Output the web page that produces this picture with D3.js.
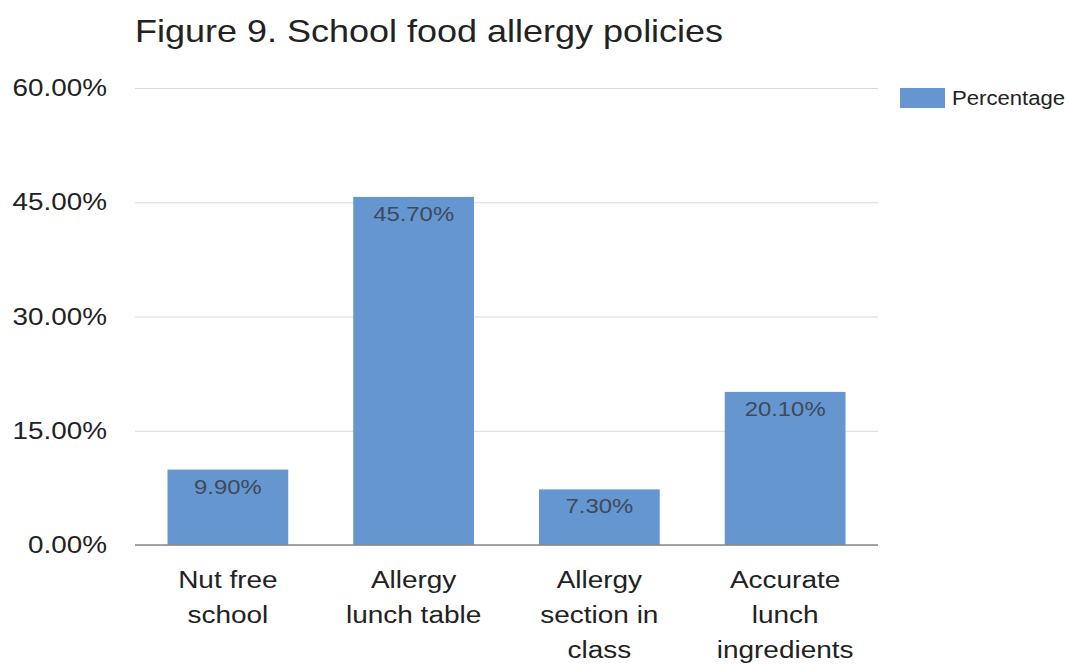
<!DOCTYPE html>
<html>
<head>
<meta charset="utf-8">
<script src="https://cdn.jsdelivr.net/npm/d3@7"></script>
<style>
  html, body { margin: 0; padding: 0; background: #fff; }
  svg { display: block; font-family: "Liberation Sans", Arial, sans-serif; }
</style>
</head>
<body>
<svg id="chart" width="1068" height="665"></svg>
<script>
// Survey results: share of schools with each food allergy policy
const categories = [
  ["Nut free", "school"],
  ["Allergy", "lunch table"],
  ["Allergy", "section in", "class"],
  ["Accurate", "lunch", "ingredients"]
];
const values = [9.9, 45.7, 7.3, 20.1];
const yTicks = [0, 15, 30, 45, 60];
const seriesName = "Percentage";
const title = "Figure 9. School food allergy policies";

const svg = d3.select("#chart");
const plot = { left: 135, right: 878, top: 88, bottom: 545 };
const barColor = "#6596d0";
const pct = d => d3.format(".2f")(d) + "%";

const x = d3.scaleBand()
  .domain(d3.range(values.length))
  .range([plot.left, plot.right])
  .paddingInner(0.35)
  .paddingOuter(0.175);

const y = d3.scaleLinear().domain([0, 60]).range([plot.bottom, plot.top]);

// Title (type set slightly wide)
svg.append("text")
  .attr("transform", "translate(135,42) scale(1.125,1)")
  .attr("font-size", 32)
  .attr("fill", "#222")
  .text(title);

// Gridlines and y tick labels
const yAxis = d3.axisLeft(y)
  .tickValues(yTicks)
  .tickSize(-(plot.right - plot.left))
  .tickPadding(0)
  .tickFormat(pct);

const gy = svg.append("g")
  .attr("transform", `translate(${plot.left},0)`)
  .call(yAxis);
gy.select(".domain").remove();
gy.selectAll(".tick line").attr("stroke", "#d9d9d9").attr("stroke-width", 1);
gy.selectAll(".tick text")
  .attr("x", 0)
  .attr("transform", "translate(-28,0) scale(1.16,1)")
  .attr("font-size", 24)
  .attr("fill", "#222")
  .attr("font-family", "Liberation Sans, Arial, sans-serif");

// Bars
svg.append("g").selectAll("rect")
  .data(values)
  .join("rect")
  .attr("x", (d, i) => x(i))
  .attr("y", d => y(d))
  .attr("width", x.bandwidth())
  .attr("height", d => y(0) - y(d))
  .attr("fill", barColor);

// Value labels inside the bars
svg.append("g").selectAll("text")
  .data(values)
  .join("text")
  .attr("transform", (d, i) =>
    `translate(${x(i) + x.bandwidth() / 2},${y(d) + 24}) scale(1.165,1)`)
  .attr("text-anchor", "middle")
  .attr("font-size", 20.5)
  .attr("fill", "#3c4a5c")
  .text(pct);

// Baseline
svg.append("line")
  .attr("x1", plot.left).attr("x2", plot.right)
  .attr("y1", y(0)).attr("y2", y(0))
  .attr("stroke", "#888").attr("stroke-width", 1.5);

// Category labels (multi-line)
const xl = svg.append("g").selectAll("text")
  .data(categories)
  .join("text")
  .attr("transform", (d, i) =>
    `translate(${x(i) + x.bandwidth() / 2},588) scale(1.19,1)`)
  .attr("text-anchor", "middle")
  .attr("font-size", 23.5)
  .attr("fill", "#222");
xl.each(function(lines) {
  const t = d3.select(this);
  lines.forEach((line, k) => {
    t.append("tspan")
      .attr("x", 0)
      .attr("dy", k === 0 ? 0 : 35)
      .text(line);
  });
});

// Legend
const legend = svg.append("g").attr("transform", "translate(900,88)");
legend.append("rect")
  .attr("width", 45).attr("height", 20)
  .attr("fill", barColor);
legend.append("text")
  .attr("transform", "translate(52,17) scale(1.135,1)")
  .attr("font-size", 19.5)
  .attr("fill", "#222")
  .text(seriesName);
</script>
</body>
</html>
